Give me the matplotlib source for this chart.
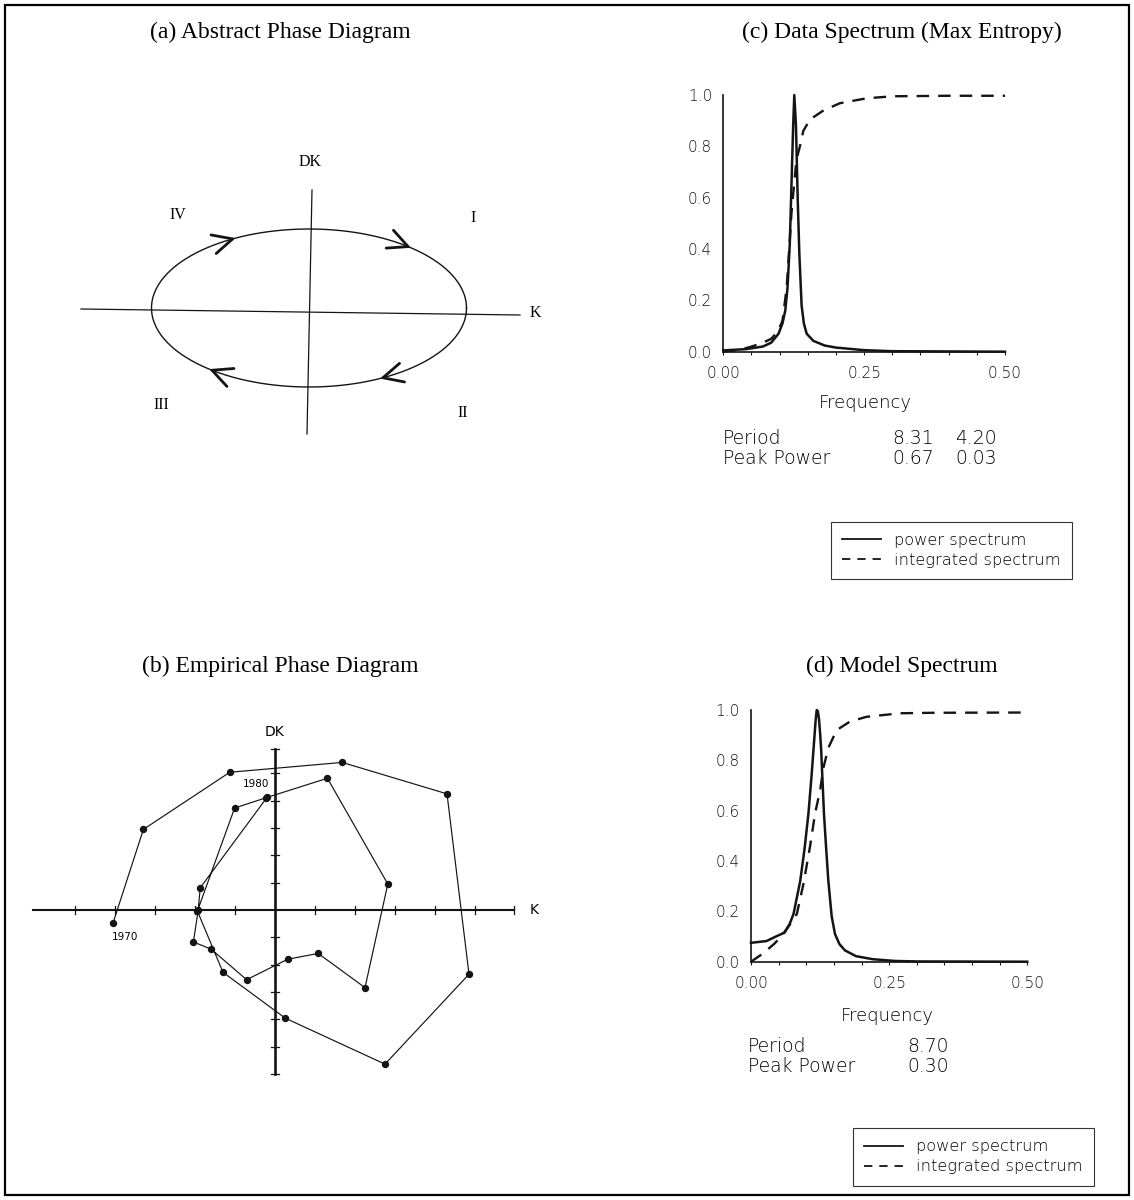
import numpy as np
import matplotlib
matplotlib.use("Agg")
import matplotlib.pyplot as plt
from matplotlib.lines import Line2D
from matplotlib.patches import Rectangle

# ------------------------------------------------------------------ data
# (a) abstract phase diagram (schematic ellipse, clockwise motion)
ELLIPSE_A = 1.575
ELLIPSE_B = 0.79
ARROW_ANGLES_DEG = [119, 51, -62, -128]
A_K_AXIS_X = [-2.28, 2.11]
A_K_AXIS_Y = [-0.01, -0.07]
A_DK_AXIS_X = [0.03, -0.02]
A_DK_AXIS_Y = [1.18, -1.26]
QUADRANT_LABELS = ["I", "II", "III", "IV"]
QUADRANT_X = [1.64, 1.54, -1.48, -1.31]
QUADRANT_Y = [0.90, -1.05, -0.97, 0.93]

# (b) empirical phase diagram, annual points from 1970
K_VALUES = [-4.05, -3.29, -1.13, 1.68, 4.30, 4.85, 2.75, 0.26, -1.30, -1.94,
            -1.01, -0.22, 1.31, 2.82, 2.25, 1.08, 0.32, -0.71, -1.60, -2.04,
            -1.92, -1.87, -0.20]
DK_VALUES = [-0.48, 2.95, 5.04, 5.40, 4.25, -2.35, -5.64, -3.96, -2.28, -0.04,
             3.73, 4.11, 4.82, 0.95, -2.84, -1.59, -1.80, -2.55, -1.43, -1.17,
             0.00, 0.81, 4.12]
YEAR_LABELS = ["1970", "1980"]
YEAR_LABEL_K = [-3.74, -0.48]
YEAR_LABEL_DK = [-1.00, 4.62]
K_AXIS_RANGE = [-6.04, 5.97]
DK_AXIS_RANGE = [-6.0, 5.9]
K_TICKS = [-5, -4, -3, -2, -1, 1, 2, 3, 4, 5, 5.97]
DK_TICKS = [-6, -5, -4, -3, -2, -1, 1, 2, 3, 4, 5, 5.9]

# (c) data spectrum (maximum entropy)
FREQ_C_POWER = [0.0, 0.04, 0.07, 0.085, 0.098, 0.105, 0.110, 0.114, 0.118, 0.121,
                0.124, 0.126, 0.129, 0.132, 0.135, 0.139, 0.143, 0.148, 0.160,
                0.180, 0.200, 0.250, 0.300, 0.500]
POWER_C = [0.005, 0.010, 0.020, 0.035, 0.070, 0.110, 0.160, 0.250, 0.420, 0.650,
           0.880, 1.000, 0.880, 0.600, 0.380, 0.180, 0.110, 0.070, 0.042,
           0.024, 0.016, 0.006, 0.002, 0.000]
FREQ_C_INT = [0.0, 0.03, 0.05, 0.068, 0.085, 0.097, 0.105, 0.1125, 0.117, 0.121,
              0.126, 0.130, 0.136, 0.142, 0.154, 0.178, 0.207, 0.254, 0.300, 0.400, 0.500]
INT_C = [0.0, 0.008, 0.020, 0.033, 0.050, 0.080, 0.120, 0.250, 0.400, 0.540,
         0.660, 0.750, 0.800, 0.860, 0.905, 0.940, 0.968, 0.987, 0.995, 0.997, 0.997]
PERIOD_C = ["8.31", "4.20"]
PEAK_POWER_C = ["0.67", "0.03"]

# (d) model spectrum
FREQ_D_POWER = [0.0, 0.028, 0.045, 0.060, 0.070, 0.077, 0.089, 0.097, 0.104, 0.110,
                0.115, 0.117, 0.119, 0.121, 0.123, 0.125, 0.127, 0.132, 0.136,
                0.140, 0.146, 0.152, 0.160, 0.170, 0.190, 0.220, 0.260, 0.300, 0.500]
POWER_D = [0.075, 0.082, 0.100, 0.115, 0.150, 0.190, 0.320, 0.450, 0.590, 0.750,
           0.900, 0.960, 1.000, 0.995, 0.965, 0.910, 0.840, 0.590, 0.450,
           0.320, 0.180, 0.110, 0.070, 0.045, 0.022, 0.010, 0.003, 0.001, 0.000]
FREQ_D_INT = [0.0, 0.022, 0.043, 0.062, 0.083, 0.095, 0.107, 0.116, 0.125, 0.131,
              0.140, 0.155, 0.179, 0.209, 0.270, 0.330, 0.500]
INT_D = [0.0, 0.033, 0.073, 0.120, 0.190, 0.310, 0.460, 0.590, 0.680, 0.770,
         0.850, 0.920, 0.954, 0.973, 0.987, 0.989, 0.990]
PERIOD_D = ["8.70"]
PEAK_POWER_D = ["0.30"]

X_TICKS = [0.0, 0.25, 0.5]
X_TICK_LABELS = ["0.00", "0.25", "0.50"]
X_MINOR_TICKS = [0.05, 0.10, 0.15, 0.20, 0.30, 0.35, 0.40, 0.45]
Y_TICKS = [0.0, 0.2, 0.4, 0.6, 0.8, 1.0]
Y_TICK_LABELS = ["0.0", "0.2", "0.4", "0.6", "0.8", "1.0"]

TITLES = ["(a) Abstract Phase Diagram", "(b) Empirical Phase Diagram",
          "(c) Data Spectrum (Max Entropy)", "(d) Model Spectrum"]
LEGEND_LABELS = ["power spectrum", "integrated spectrum"]

# ------------------------------------------------------------------ setup
plt.rcParams["lines.scale_dashes"] = False
plt.rcParams["font.family"] = ["DejaVu Sans"]

W, H = 1134, 1200
fig = plt.figure(figsize=(W / 100, H / 100), dpi=100)
fig.patch.set_facecolor("white")

SERIF = ["Liberation Serif", "DejaVu Serif"]
SANS = ["DejaVu Sans"]
INK = "#141414"
DASH = (9, 6.5)


def fx(px):
    return px / W


def fy(py):
    return 1 - py / H


def add_ax(x0, y0, x1, y1):
    return fig.add_axes([fx(x0), fy(y1), (x1 - x0) / W, (y1 - y0) / H])


def ftext(x, y, s, **kw):
    fig.text(fx(x), fy(y), s, **kw)


# frame around the figure
fig.add_artist(Rectangle((fx(5), fy(1195)), (1129 - 5) / W, (1195 - 5) / H,
                         transform=fig.transFigure, fill=False, lw=1.6,
                         ec="black"))

# titles
title_pos = [(280, 38), (280, 672), (902, 38), (902, 672)]
for t, (x, y) in zip(TITLES, title_pos):
    ftext(x, y, t, ha="center", va="baseline", family=SERIF, fontsize=17)

# ------------------------------------------------------------------ (a)
axA = add_ax(60, 140, 560, 450)
axA.set_xlim(-2.49, 2.51)
axA.set_ylim(-1.42, 1.68)
axA.axis("off")
tt = np.linspace(0, 2 * np.pi, 400)
axA.plot(ELLIPSE_A * np.cos(tt), ELLIPSE_B * np.sin(tt), color=INK, lw=1.0)
axA.plot(A_K_AXIS_X, A_K_AXIS_Y, color=INK, lw=0.9)
axA.plot(A_DK_AXIS_X, A_DK_AXIS_Y, color=INK, lw=0.9)
for ang in ARROW_ANGLES_DEG:
    th = np.radians(ang)
    tip = np.array([ELLIPSE_A * np.cos(th), ELLIPSE_B * np.sin(th)])
    d = np.array([ELLIPSE_A * np.sin(th), -ELLIPSE_B * np.cos(th)])
    d /= np.linalg.norm(d)
    for s in (1, -1):
        r = np.radians(180 + s * 26)
        R = np.array([[np.cos(r), -np.sin(r)], [np.sin(r), np.cos(r)]])
        arm = tip + 0.22 * R @ d
        axA.plot([tip[0], arm[0]], [tip[1], arm[1]], color=INK, lw=2.0,
                 solid_capstyle="round")
for lab, x, y in zip(QUADRANT_LABELS, QUADRANT_X, QUADRANT_Y):
    axA.text(x, y, lab, ha="center", va="center", family=SERIF, fontsize=11.5)
axA.text(0.01, 1.46, "DK", ha="center", va="center", family=SERIF, fontsize=11.5)
axA.text(2.26, -0.05, "K", ha="center", va="center", family=SERIF, fontsize=11.5)

# ------------------------------------------------------------------ (b)
axB = add_ax(20, 720, 560, 1090)
axB.set_xlim(-6.375, 7.125)
axB.set_ylim(-6.586, 6.952)
axB.axis("off")
axB.plot(K_AXIS_RANGE, [0, 0], color=INK, lw=1.5)
axB.plot([0, 0], DK_AXIS_RANGE, color=INK, lw=1.9)
for k in K_TICKS:
    axB.plot([k, k], [-0.14, 0.14], color=INK, lw=0.9)
for dk in DK_TICKS:
    axB.plot([-0.1, 0.1], [dk, dk], color=INK, lw=0.9)
axB.plot(K_VALUES, DK_VALUES, color=INK, lw=0.85, marker="o", ms=4.3,
         mfc=INK, mec=INK)
for lab, x, y in zip(YEAR_LABELS, YEAR_LABEL_K, YEAR_LABEL_DK):
    axB.text(x, y, lab, ha="center", va="center", family=SANS, fontsize=7.5)
axB.text(0, 6.51, "DK", ha="center", va="center", family=SANS, fontsize=10)
axB.text(6.47, 0, "K", ha="center", va="center", family=SANS, fontsize=10)


# ------------------------------------------------------------------ spectra
def style_spec(ax):
    ax.set_xlim(0, 0.5)
    ax.set_ylim(0, 1)
    ax.patch.set_alpha(0)
    for s in ["top", "right"]:
        ax.spines[s].set_visible(False)
    for s in ["left", "bottom"]:
        ax.spines[s].set_linewidth(1.2)
        ax.spines[s].set_color(INK)
    ax.set_xticks(X_TICKS)
    ax.set_xticklabels(X_TICK_LABELS)
    ax.set_xticks(X_MINOR_TICKS, minor=True)
    ax.set_yticks(Y_TICKS)
    ax.set_yticklabels(Y_TICK_LABELS)
    ax.tick_params(axis="x", which="both", direction="out", length=2.5,
                   width=0.8, pad=8, labelsize=11, colors=INK)
    ax.tick_params(axis="y", length=0, pad=8, labelsize=11, colors=INK)
    for lbl in ax.get_xticklabels() + ax.get_yticklabels():
        lbl.set_fontweight("light")


def draw_spec(ax, fp, p, fi, iv):
    ax.plot(fp, p, color=INK, lw=1.8, clip_on=False, solid_joinstyle="round")
    ax.plot(fi, iv, color=INK, lw=1.7, dashes=DASH, clip_on=False)


def legend_at(x0, y0):
    handles = [Line2D([], [], color=INK, lw=1.3),
               Line2D([], [], color=INK, lw=1.3, dashes=(6, 5))]
    leg = fig.legend(handles, LEGEND_LABELS, loc="upper left",
                     bbox_to_anchor=(fx(x0), fy(y0)),
                     bbox_transform=fig.transFigure, borderaxespad=0,
                     frameon=True, fancybox=False, shadow=False,
                     handlelength=2.4, handletextpad=0.75, borderpad=0.7,
                     labelspacing=0.3, prop={"family": SANS, "size": 11.7,
                                             "weight": "light"})
    fr = leg.get_frame()
    fr.set_edgecolor("#333333")
    fr.set_linewidth(0.8)
    fr.set_alpha(1)
    return leg


# (c)
axC = add_ax(723.3, 95, 1005, 351.7)
style_spec(axC)
draw_spec(axC, FREQ_C_POWER, POWER_C, FREQ_C_INT, INT_C)
ftext(865, 408, "Frequency", ha="center", va="baseline", fontsize=13,
      fontweight="light")
ftext(722.7, 444, "Period", ha="left", va="baseline", fontsize=13.5,
      fontweight="light")
ftext(722.7, 464, "Peak Power", ha="left", va="baseline", fontsize=13.5,
      fontweight="light")
for v, x in zip(PERIOD_C, [892.7, 955]):
    ftext(x, 444, v, ha="left", va="baseline", fontsize=13.5, fontweight="light")
for v, x in zip(PEAK_POWER_C, [892.7, 955]):
    ftext(x, 464, v, ha="left", va="baseline", fontsize=13.5, fontweight="light")
legend_at(831, 521.7)

# (d)
axD = add_ax(751, 710, 1027.3, 961.7)
style_spec(axD)
draw_spec(axD, FREQ_D_POWER, POWER_D, FREQ_D_INT, INT_D)
ftext(887, 1021, "Frequency", ha="center", va="baseline", fontsize=13,
      fontweight="light")
ftext(748, 1052, "Period", ha="left", va="baseline", fontsize=13.5,
      fontweight="light")
ftext(748, 1071.5, "Peak Power", ha="left", va="baseline", fontsize=13.5,
      fontweight="light")
for v in PERIOD_D:
    ftext(907, 1052, v, ha="left", va="baseline", fontsize=13.5,
          fontweight="light")
for v in PEAK_POWER_D:
    ftext(907, 1071.5, v, ha="left", va="baseline", fontsize=13.5,
          fontweight="light")
legend_at(853, 1128)

fig.savefig("out.png", dpi=100, facecolor="white")
